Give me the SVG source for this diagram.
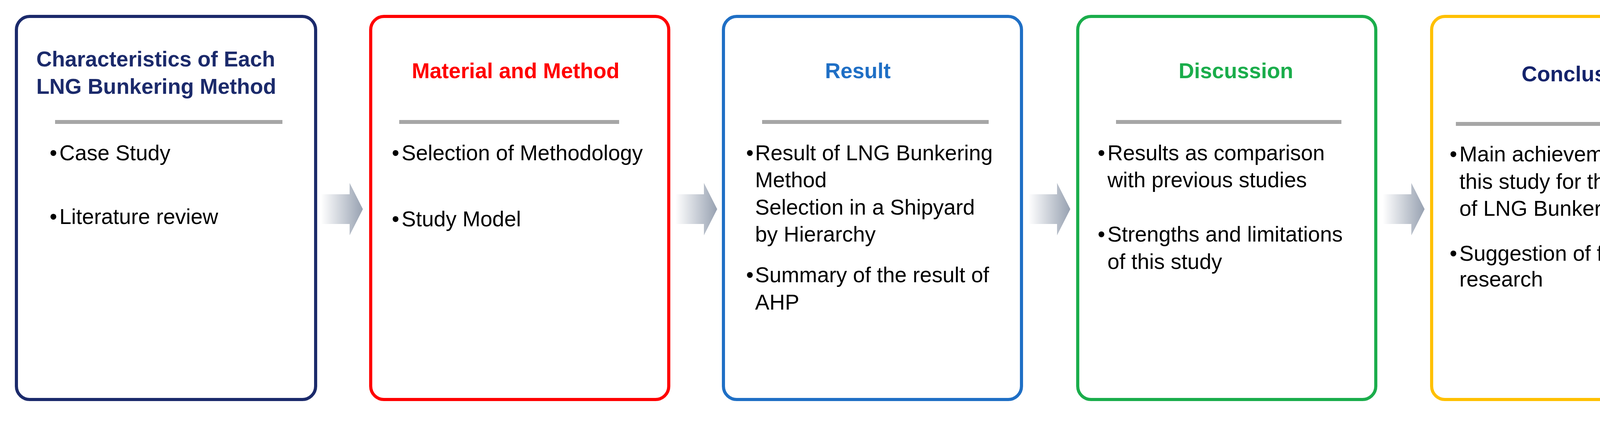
<svg xmlns="http://www.w3.org/2000/svg" width="4414" height="1077" viewBox="0 0 4414 1077">
<defs>
<linearGradient id="ag" x1="0" y1="0" x2="1" y2="0">
<stop offset="0" stop-color="#ffffff"/>
<stop offset="1" stop-color="#97a1b1"/>
</linearGradient>
<style>
.box{fill:#fff;stroke-width:8}
.div{stroke:#a6a6a6;stroke-width:10}
.t{font-family:"Liberation Sans",Arial,sans-serif;font-weight:bold;font-size:55px}
.b{font-family:"Liberation Sans",Arial,sans-serif;font-size:55px;fill:#000}
.arr{fill:url(#ag)}
</style>
</defs>
<rect width="4414" height="1077" fill="#fff"/>
<g id="connectors">
<polygon class="arr" points="822,497 895,497 895,468 929,535 895,602 895,573 822,573"/>
<polygon class="arr" points="1729,497 1802,497 1802,468 1836,535 1802,602 1802,573 1729,573"/>
<polygon class="arr" points="2633,497 2706,497 2706,468 2740,535 2706,602 2706,573 2633,573"/>
<polygon class="arr" points="3540,497 3613,497 3613,468 3647,535 3613,602 3613,573 3540,573"/>
</g>
<g id="n1">
<rect class="box" x="42" y="42" width="766" height="980" rx="34" stroke="#1b2a6b"/>
<text class="t" x="93" y="170" fill="#1b2a6b">Characteristics of Each</text>
<text class="t" x="93" y="240" fill="#1b2a6b">LNG Bunkering Method</text>
<line class="div" x1="141" y1="312" x2="723" y2="312"/>
<text class="b" x="127" y="410">•</text><text class="b" x="152" y="410">Case Study</text>
<text class="b" x="127" y="573">•</text><text class="b" x="152" y="573">Literature review</text>
</g>
<g id="n2">
<rect class="box" x="949" y="42" width="763" height="980" rx="34" stroke="#ff0000"/>
<text class="t" x="1320" y="200" fill="#ff0000" text-anchor="middle">Material and Method</text>
<line class="div" x1="1022" y1="312" x2="1585" y2="312"/>
<text class="b" x="1003" y="410">•</text><text class="b" x="1028" y="410">Selection of Methodology</text>
<text class="b" x="1003" y="579">•</text><text class="b" x="1028" y="579">Study Model</text>
</g>
<g id="n3">
<rect class="box" x="1852" y="42" width="763" height="980" rx="34" stroke="#1f6fc5"/>
<text class="t" x="2196" y="200" fill="#1f6fc5" text-anchor="middle">Result</text>
<line class="div" x1="1951" y1="312" x2="2531" y2="312"/>
<text class="b" x="1910" y="410">•</text><text class="b" x="1933" y="410">Result of LNG Bunkering</text>
<text class="b" x="1933" y="479">Method</text>
<text class="b" x="1933" y="549">Selection in a Shipyard</text>
<text class="b" x="1933" y="618">by Hierarchy</text>
<text class="b" x="1910" y="722">•</text><text class="b" x="1933" y="722">Summary of the result of</text>
<text class="b" x="1933" y="792">AHP</text>
</g>
<g id="n4">
<rect class="box" x="2759" y="42" width="763" height="980" rx="34" stroke="#1aad4b"/>
<text class="t" x="3164" y="200" fill="#1aad4b" text-anchor="middle">Discussion</text>
<line class="div" x1="2857" y1="312" x2="3434" y2="312"/>
<text class="b" x="2810" y="410">•</text><text class="b" x="2835" y="410">Results as comparison</text>
<text class="b" x="2835" y="479">with previous studies</text>
<text class="b" x="2810" y="618">•</text><text class="b" x="2835" y="618">Strengths and limitations</text>
<text class="b" x="2835" y="688">of this study</text>
</g>
<g id="n5">
<rect class="box" x="3665" y="42" width="712" height="980" rx="34" stroke="#ffc000"/>
<text class="t" x="4045" y="208" fill="#14236b" text-anchor="middle">Conclusion</text>
<line class="div" x1="3727" y1="317" x2="4307" y2="317"/>
<text class="b" x="3711" y="413">•</text><text class="b" x="3736" y="413">Main achievement of</text>
<text class="b" x="3736" y="483">this study for the result</text>
<text class="b" x="3736" y="552">of LNG Bunkering AHP</text>
<text class="b" x="3711" y="667">•</text><text class="b" x="3736" y="667">Suggestion of future</text>
<text class="b" x="3736" y="733">research</text>
</g>
</svg>
